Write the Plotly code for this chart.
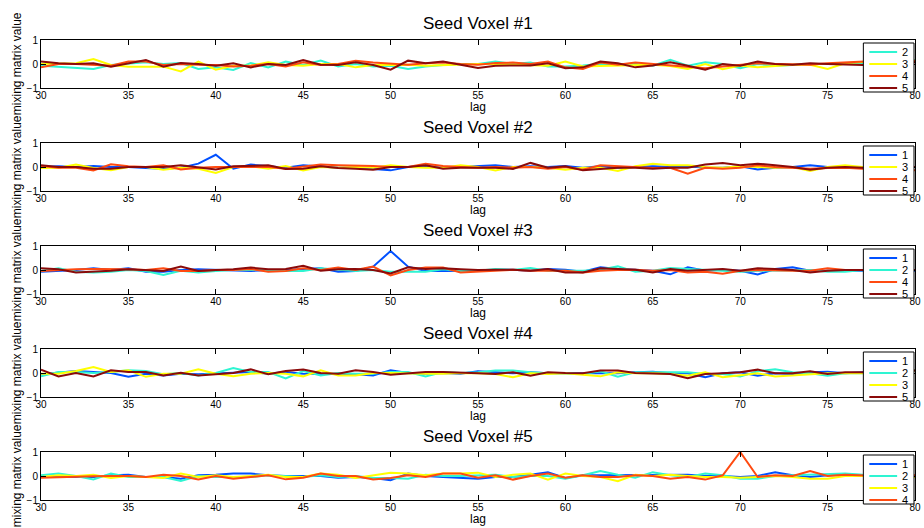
import plotly.graph_objects as go

# ---------------- data ----------------
lags = list(range(30, 81))
channel_names = ["1", "2", "3", "4", "5"]
channel_colors = ["#0050FF", "#2EF5D2", "#FFFF00", "#FF4A10", "#8B0A0A"]
seed_titles = ["Seed Voxel #1", "Seed Voxel #2", "Seed Voxel #3", "Seed Voxel #4", "Seed Voxel #5"]
x_ticks = [30, 35, 40, 45, 50, 55, 60, 65, 70, 75, 80]
y_ticks = [-1, 0, 1]

# Seed voxel 1 (channels 2,3,4,5)
seed1_ch2 = [-0.07, -0.11, -0.18, -0.21, -0.04, 0.03, 0.07, 0, 0.04, -0.21, -0.14, -0.25, 0.04, -0.14, 0.10, -0.04, 0.14, -0.10, 0, -0.10, -0.07, -0.21, -0.10, -0.04, 0,
             0, 0.10, 0, 0.06, -0.10, -0.10, -0.06, 0, -0.03, 0, -0.07, 0.17, -0.07, 0.07, 0, -0.18, 0, -0.07, -0.04, 0, 0, 0, 0.03, 0.07, 0.07, 0.17]
seed1_ch3 = [0, 0, 0.03, 0.21, -0.04, -0.11, -0.11, -0.11, -0.31, 0.10, -0.24, -0.07, -0.07, 0.07, -0.04, -0.07, 0, 0, -0.14, -0.04, -0.04, -0.03, -0.07, -0.04, 0,
             0, 0, -0.03, -0.03, -0.07, 0.10, -0.10, -0.08, -0.07, -0.04, -0.03, -0.08, -0.21, 0, -0.22, -0.06, -0.14, -0.08, -0.03, -0.03, -0.21, 0.03, 0.10, 0.14, 0.07, 0.14]
seed1_ch4 = [-0.14, 0, 0, -0.03, -0.07, 0.10, 0.10, -0.04, 0, -0.03, -0.04, -0.10, -0.07, 0, -0.10, 0.07, -0.04, 0, 0.14, 0.06, 0, -0.03, 0.03, 0.06, 0,
             -0.03, 0.04, 0.06, 0, 0.10, -0.14, -0.21, 0.06, -0.03, 0.06, 0, -0.03, -0.10, -0.18, -0.10, -0.04, 0.03, 0, 0, -0.03, 0.03, 0.06, 0.10, 0.14, 0.10, 0.14]
seed1_ch5 = [0.10, 0.03, 0, 0.03, -0.11, 0.04, 0.17, -0.11, 0.04, 0, -0.07, 0.03, -0.14, 0, -0.04, 0.17, -0.03, -0.04, 0.07, -0.04, -0.24, 0.14, 0.03, 0.10, -0.03,
             -0.17, -0.07, -0.08, -0.06, 0.03, -0.18, -0.14, 0.10, 0.03, -0.14, -0.06, 0.07, -0.07, -0.24, 0, -0.07, 0.10, 0, -0.03, 0.03, 0, -0.03, -0.04, 0, 0, 0.07]

# Seed voxel 2 (channels 1,3,4,5)
seed2_ch1 = [0, 0.03, 0, 0.04, 0, 0, -0.04, -0.07, -0.03, 0.14, 0.51, -0.07, 0.10, 0.03, -0.03, 0.07, 0.03, -0.03, -0.03, -0.07, -0.14, 0, 0.03, -0.03, 0,
             0.04, 0.07, 0, 0.03, 0, 0.04, -0.03, 0.03, -0.03, 0, 0.03, 0, 0.03, -0.03, -0.03, 0.03, -0.10, -0.03, 0, 0.07, 0, -0.03, 0, 0.03, 0, 0]
seed2_ch3 = [-0.04, -0.03, 0.10, -0.04, -0.14, 0, 0, -0.11, -0.03, -0.07, -0.25, 0, 0.03, -0.07, 0.04, -0.14, 0, -0.03, 0, -0.03, 0.07, 0, -0.03, -0.03, 0.07,
             0, -0.14, 0, 0, -0.03, -0.11, -0.03, -0.03, -0.17, 0.03, 0.14, 0.07, 0.07, 0, -0.03, 0.03, 0, -0.03, 0, -0.17, 0, 0.07, 0, 0.03, 0, 0]
seed2_ch4 = [0.04, -0.03, -0.03, -0.14, 0.11, 0.03, 0, 0.07, -0.10, -0.03, 0, 0, 0.03, 0, -0.07, 0, 0.10, 0.07, 0.07, 0.04, 0, 0, 0.14, 0.04, 0,
             -0.03, 0, -0.03, 0, -0.07, 0, -0.11, 0.07, 0.03, -0.03, -0.04, -0.03, -0.28, -0.03, -0.07, -0.03, 0.07, 0, -0.03, -0.07, -0.04, -0.03, -0.07, -0.03, -0.07, -0.14]
seed2_ch5 = [0.07, 0, 0, -0.07, -0.07, 0, 0, 0, 0.07, 0, -0.10, 0.03, 0.04, 0.07, -0.08, -0.07, 0.03, -0.04, -0.07, -0.11, 0, 0, 0.07, -0.07, -0.03,
             -0.03, -0.03, -0.08, 0.17, -0.03, 0.03, -0.14, -0.10, -0.03, -0.03, -0.07, -0.03, -0.03, 0.10, 0.17, 0.07, 0.14, 0.07, 0, -0.11, -0.03, 0, -0.03, 0, 0, 0]

# Seed voxel 3 (channels 1,2,4,5)
seed3_ch1 = [-0.07, -0.04, 0, 0.07, 0, 0.07, -0.07, -0.07, 0, 0.03, 0, -0.03, -0.04, 0, 0, 0.04, 0.07, -0.07, -0.04, 0.14, 0.79, 0.14, -0.04, -0.04, -0.04,
             -0.03, 0.01, 0.01, -0.03, 0.04, 0.01, -0.07, 0.11, 0.04, 0.01, -0.03, -0.18, 0.11, -0.03, 0.01, -0.03, -0.19, 0.04, 0.11, -0.03, -0.03, -0.03, 0, -0.03, -0.03, -0.03]
seed3_ch2 = [-0.04, 0.07, -0.07, -0.10, -0.07, 0, -0.04, -0.21, -0.03, -0.10, -0.04, 0, 0, 0, -0.04, -0.04, 0.07, 0, -0.04, 0, -0.07, -0.07, -0.07, 0.03, -0.04,
             -0.03, 0.04, 0, 0.08, -0.03, -0.03, -0.03, 0.01, 0.15, -0.07, -0.03, 0.08, 0.04, 0.01, -0.03, -0.07, -0.03, -0.03, -0.03, 0, -0.07, -0.07, 0, -0.03, 0, 0]
seed3_ch4 = [-0.04, 0, 0.03, 0.04, 0.04, 0.03, 0, 0.07, -0.04, -0.04, 0, 0, 0.04, -0.07, -0.04, 0.07, 0, 0.10, 0, 0.14, -0.23, 0, 0.10, 0.10, -0.10,
             -0.07, -0.03, 0.01, -0.03, -0.03, -0.03, -0.10, -0.03, 0, 0.01, -0.03, 0, -0.10, -0.07, -0.16, -0.03, 0, -0.03, -0.03, -0.03, 0.07, 0, 0, -0.03, -0.03, 0]
seed3_ch5 = [0.07, 0.03, -0.10, -0.07, -0.03, 0.03, 0, -0.04, 0.14, -0.04, 0, 0.03, 0.10, 0.03, 0.04, 0.18, -0.03, 0.03, 0.04, 0, -0.14, 0.11, 0.04, 0.07, 0.03,
             0, 0.01, 0.01, -0.03, 0.04, -0.10, -0.10, 0.07, 0.04, 0.01, -0.10, 0.04, -0.03, 0.01, 0.04, -0.03, 0.07, 0.04, 0, -0.10, -0.03, 0, 0.01, 0, 0, 0]

# Seed voxel 4 (channels 1,2,3,5)
seed4_ch1 = [-0.05, 0, 0.08, 0.04, 0, -0.16, -0.03, -0.10, -0.03, -0.05, -0.03, 0, 0.04, -0.03, 0.04, -0.03, -0.03, -0.05, -0.05, -0.10, 0.11, 0, -0.03, 0, -0.03,
             0.07, 0.03, -0.01, 0.03, -0.01, -0.01, -0.01, -0.04, -0.01, 0.03, 0.05, -0.01, -0.01, -0.18, -0.01, 0.03, -0.11, -0.01, -0.04, 0.03, 0.05, -0.01, 0.03, 0.03, 0.05, 0.10]
seed4_ch2 = [-0.14, 0.04, 0.04, 0, 0.04, 0.11, 0.08, -0.05, 0, -0.10, 0, 0.21, 0.04, 0.04, -0.23, 0.08, -0.10, 0, -0.03, -0.03, 0.04, 0.04, -0.14, 0.04, 0,
             0.03, 0.10, 0.10, 0.03, -0.01, -0.01, -0.04, 0.07, -0.15, 0.03, 0.03, 0.03, 0.03, -0.04, -0.04, -0.15, 0.07, 0.16, 0.03, -0.01, -0.11, -0.01, -0.01, 0.03, 0.07, 0.10]
seed4_ch3 = [-0.03, -0.03, 0.08, 0.25, 0.04, 0.11, -0.16, -0.03, -0.03, 0.15, -0.03, -0.14, -0.03, 0, -0.03, -0.14, 0.11, -0.10, -0.10, 0, 0, -0.03, -0.03, -0.03, 0,
             -0.01, -0.04, -0.18, -0.01, -0.04, -0.01, -0.07, -0.14, 0.03, -0.01, -0.01, -0.04, -0.11, 0.03, -0.18, -0.11, -0.01, -0.15, -0.11, -0.04, -0.01, -0.01, -0.01, 0.03, 0.03, 0.10]
seed4_ch5 = [0.14, -0.14, 0, -0.14, 0.11, 0.04, 0.04, -0.10, 0.01, -0.10, -0.05, 0, 0.15, -0.05, 0.08, 0.15, 0, -0.03, 0.11, 0.04, -0.07, -0.03, 0.04, 0.04, 0,
             -0.01, -0.04, 0.03, -0.11, 0.03, 0, -0.01, 0.10, 0.10, 0, -0.01, -0.04, -0.22, -0.04, -0.01, 0.03, 0.14, -0.01, -0.01, 0.07, -0.04, 0.03, 0.03, 0.03, 0.05, 0.10]

# Seed voxel 5 (channels 1,2,3,4)
seed5_ch1 = [-0.04, -0.04, -0.04, -0.04, 0.03, 0.05, -0.04, -0.04, -0.11, 0.03, 0.05, 0.10, 0.10, 0.03, 0, 0, 0, -0.07, -0.04, -0.08, -0.18, 0.10, 0, -0.04, -0.08,
             -0.11, -0.04, -0.04, 0.05, 0.16, -0.08, 0.03, 0.03, 0.03, 0.05, 0.05, 0.05, 0.05, 0, 0, -0.04, 0, 0.16, 0.03, -0.04, 0.03, 0.05, 0.05, 0.03, -0.04, -0.04]
seed5_ch2 = [0.03, 0.10, 0, -0.14, 0.10, -0.04, -0.04, -0.04, -0.21, 0, -0.04, -0.04, -0.04, 0.03, 0, -0.04, 0.03, -0.04, 0, -0.08, -0.08, -0.11, 0.05, 0, 0,
             0.03, 0.05, -0.04, 0, 0, -0.11, 0.03, 0.21, 0.05, -0.07, 0.16, 0.03, -0.04, 0.10, 0.03, -0.11, -0.11, 0, 0.03, 0.05, 0.10, 0.10, 0.05, 0, -0.04, -0.04]
seed5_ch3 = [-0.04, 0.03, 0, 0.05, -0.08, 0, -0.04, -0.08, 0.10, -0.04, 0.03, -0.04, 0, 0.05, -0.04, -0.04, 0.10, 0.05, -0.08, 0.03, 0.14, 0.10, 0.03, 0.10, 0.10,
             0.14, -0.04, 0.05, 0.10, -0.15, 0.10, 0, -0.04, -0.22, 0.05, 0, 0.05, 0, -0.04, -0.04, -0.07, -0.04, 0, -0.04, -0.11, -0.11, 0, 0, -0.08, -0.11, -0.04]
seed5_ch4 = [-0.07, -0.04, -0.04, -0.01, 0, 0, -0.04, 0.05, 0, -0.14, 0, -0.11, -0.04, 0.03, -0.14, -0.07, 0.10, 0, 0, -0.15, -0.08, 0.03, -0.04, 0.10, 0.10,
             -0.07, 0.03, -0.15, 0, 0.10, -0.07, 0.03, -0.04, -0.04, 0.03, 0, -0.11, -0.04, -0.15, 0.03, 1.0, -0.04, 0.03, 0, 0.21, 0, 0.05, 0.03, 0, 0.03, 0.03]

panels = [
    [(1, seed1_ch2), (2, seed1_ch3), (3, seed1_ch4), (4, seed1_ch5)],
    [(0, seed2_ch1), (2, seed2_ch3), (3, seed2_ch4), (4, seed2_ch5)],
    [(0, seed3_ch1), (1, seed3_ch2), (3, seed3_ch4), (4, seed3_ch5)],
    [(0, seed4_ch1), (1, seed4_ch2), (2, seed4_ch3), (4, seed4_ch5)],
    [(0, seed5_ch1), (1, seed5_ch2), (2, seed5_ch3), (3, seed5_ch4)],
]

# ---------------- layout helpers ----------------
W, H = 924, 528
ML, MR, MT, MB = 41, 3, 40, 28
PW, PH = W - ML - MR, H - MT - MB
FONT = "Liberation Sans, Arial, Helvetica, sans-serif"


def fx(px):
    return (px - ML) / PW


def fy(py):
    return 1 - (py - MT) / PH


panel_top = [40 + 103 * i for i in range(5)]
panel_h = 48

fig = go.Figure()
annotations = []
shapes = []

for i, series in enumerate(panels):
    n = "" if i == 0 else str(i + 1)
    xa, ya = "x" + n, "y" + n
    for ci, vals in series:
        fig.add_trace(go.Scatter(
            x=lags, y=vals, mode="lines", name=channel_names[ci],
            line=dict(color=channel_colors[ci], width=2),
            xaxis=xa, yaxis=ya, showlegend=False,
        ))
    top = panel_top[i]
    bot = top + panel_h
    axis_common = dict(
        showline=True, linecolor="black", linewidth=1, mirror="ticks",
        ticks="inside", ticklen=5, tickcolor="black", tickwidth=1,
        showgrid=False, zeroline=False, ticklabeloverflow="allow",
        tickfont=dict(family=FONT, size=10, color="black"),
    )
    fig.layout["xaxis" + n] = dict(
        axis_common, domain=[0, 1], range=[30, 80.0001], tickvals=x_ticks,
        ticktext=[str(t) for t in x_ticks],
        anchor=ya, ticklabelstandoff=-2,
    )
    fig.layout["yaxis" + n] = dict(
        axis_common, domain=[fy(bot), fy(top)], range=[-1, 1], tickvals=y_ticks,
        anchor=xa,
    )
    # title
    annotations.append(dict(
        text=seed_titles[i], x=0.5, y=fy(top - 16), xref="paper", yref="paper",
        showarrow=False, xanchor="center", yanchor="middle",
        font=dict(family=FONT, size=17, color="black"),
    ))
    # x label
    annotations.append(dict(
        text="lag", x=0.5, y=fy(bot + 19), xref="paper", yref="paper",
        showarrow=False, xanchor="center", yanchor="middle",
        font=dict(family=FONT, size=12, color="black"),
    ))
    # y label
    annotations.append(dict(
        text="mixing matrix value", x=fx(17), y=fy(top + panel_h / 2),
        xref="paper", yref="paper", showarrow=False, textangle=-90,
        xanchor="center", yanchor="middle",
        font=dict(family=FONT, size=12, color="black"),
    ))
    # legend box
    shapes.append(dict(
        type="rect", xref="paper", yref="paper",
        x0=fx(869), x1=fx(920), y0=fy(top + 52), y1=fy(top + 3),
        line=dict(color="black", width=1), fillcolor="white", layer="above",
    ))
    for k, (ci, _) in enumerate(series):
        ly = top + 12 + 12 * k
        shapes.append(dict(
            type="line", xref="paper", yref="paper",
            x0=fx(875), x1=fx(903), y0=fy(ly), y1=fy(ly),
            line=dict(color=channel_colors[ci], width=2), layer="above",
        ))
        annotations.append(dict(
            text=channel_names[ci], x=fx(906), y=fy(ly), xref="paper", yref="paper",
            showarrow=False, xanchor="left", yanchor="middle",
            font=dict(family=FONT, size=11, color="black"),
        ))

fig.update_layout(
    width=W, height=H,
    margin=dict(l=ML, r=MR, t=MT, b=MB, pad=0),
    paper_bgcolor="white", plot_bgcolor="white",
    showlegend=False,
    annotations=annotations, shapes=shapes,
    font=dict(family=FONT, color="black"),
)

fig.write_html("out.html")
